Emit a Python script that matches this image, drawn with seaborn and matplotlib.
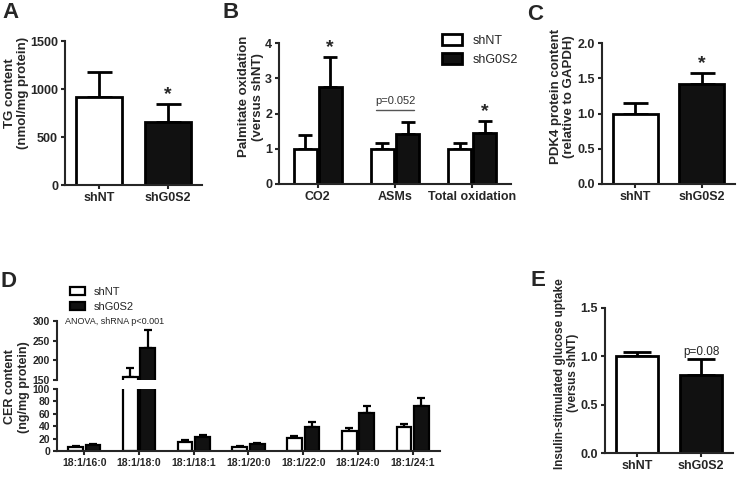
import numpy as np
import pandas as pd
import matplotlib
matplotlib.use('Agg')
import matplotlib.pyplot as plt
import seaborn as sns

# ---- data ----
groups = ['shNT', 'shG0S2']
tg_mean = [917, 656]
tg_sem = [260, 188]

ox_cats = ['CO2', 'ASMs', 'Total oxidation']
ox_shnt = [1.0, 1.0, 1.0]
ox_shnt_sem = [0.38, 0.15, 0.15]
ox_shg = [2.75, 1.42, 1.45]
ox_shg_sem = [0.85, 0.33, 0.33]

pdk4_mean = [1.0, 1.42]
pdk4_sem = [0.15, 0.16]

cer_cats = ['18:1/16:0', '18:1/18:0', '18:1/18:1', '18:1/20:0', '18:1/22:0', '18:1/24:0', '18:1/24:1']
cer_shnt = [7, 158, 15, 7, 21, 33, 39]
cer_shnt_sem = [1, 23, 2, 1, 3, 4, 5]
cer_shg = [10, 232, 22, 12, 38, 61, 72]
cer_shg_sem = [1.5, 44, 4, 1.5, 8, 12, 14]

glu_mean = [1.0, 0.81]
glu_sem = [0.04, 0.16]

colors = {'shNT': 'white', 'shG0S2': '#111111'}

sns.set_style('ticks')
plt.rcParams['font.family'] = ['Liberation Sans', 'DejaVu Sans']
plt.rcParams['axes.linewidth'] = 1.5

W, H = 738, 479
fig = plt.figure(figsize=(W / 100, H / 100), dpi=100)


def box(l, t, r, b):
    return [l / W, 1 - b / H, (r - l) / W, (b - t) / H]


def style(ax, size=9):
    sns.despine(ax=ax)
    ax.tick_params(direction='out', length=3, width=1.5, pad=2, labelsize=size)
    for lab in ax.get_xticklabels() + ax.get_yticklabels():
        lab.set_fontweight('bold')


def add_err(ax, sems, cap, lw=2):
    # sems: one list per hue level, in container order
    tops = []
    for cont, errs in zip(ax.containers, sems):
        for bar, e in zip(cont, errs):
            x = bar.get_x() + bar.get_width() / 2
            h = bar.get_height()
            ax.errorbar(x, h, yerr=[[0], [e]], fmt='none', ecolor='black',
                        elinewidth=lw, capsize=cap, capthick=lw, zorder=1)
            tops.append((x, h + e))
    return tops


def simple(ax, means, sems, cap):
    df = pd.DataFrame({'group': groups, 'value': means})
    sns.barplot(data=df, x='group', y='value', hue='group', palette=colors,
                legend=False, width=0.67, edgecolor='black', linewidth=2,
                errorbar=None, ax=ax, zorder=2)
    tops = add_err(ax, [[s] for s in sems], cap)
    ax.set_xlim(-0.5, 1.5)
    ax.set_xlabel('')
    return tops


# ---- A ----
axA = fig.add_axes(box(65, 41, 202, 185))
tops = simple(axA, tg_mean, tg_sem, 9)
axA.set_ylim(0, 1500)
axA.set_yticks([0, 500, 1000, 1500])
axA.set_ylabel('TG content\n(nmol/mg protein)', fontsize=9.5, fontweight='bold')
axA.yaxis.set_label_coords(-0.26, 0.64)
axA.text(tops[1][0], tops[1][1] + 10, '*', ha='center', va='bottom', fontsize=14, fontweight='bold')
style(axA)

# ---- B ----
axB = fig.add_axes(box(279, 43, 511, 184))
dfB = pd.DataFrame({'cat': ox_cats * 2,
                    'grp': ['shNT'] * 3 + ['shG0S2'] * 3,
                    'value': ox_shnt + ox_shg})
sns.barplot(data=dfB, x='cat', y='value', hue='grp', palette=colors,
            width=0.65, gap=0.08, edgecolor='black', linewidth=2,
            errorbar=None, ax=axB, zorder=2)
topsB = add_err(axB, [ox_shnt_sem, ox_shg_sem], 4.7)
axB.set_xlim(-0.5, 2.5)
axB.set_ylim(0, 4)
axB.set_yticks([0, 1, 2, 3, 4])
axB.set_xlabel('')
axB.set_ylabel('Palmitate oxidation\n(versus shNT)', fontsize=9.5, fontweight='bold')
axB.yaxis.set_label_coords(-0.065, 0.62)
for x, t in [topsB[3], topsB[5]]:
    axB.text(x, t + 0.02, '*', ha='center', va='bottom', fontsize=14, fontweight='bold')
axB.plot([topsB[1][0] - 0.08, topsB[4][0] + 0.08], [2.1, 2.1], color='#555555', lw=1)
axB.text((topsB[1][0] + topsB[4][0]) / 2, 2.2, 'p=0.052', ha='center', va='bottom',
         fontsize=8, color='#333333')
h, l = axB.get_legend_handles_labels()
axB.legend(h, l, loc='upper left', bbox_to_anchor=(436 / W, 1 - 28 / H),
           bbox_transform=fig.transFigure, frameon=False, fontsize=9,
           handlelength=1.6, handleheight=1.0, labelspacing=0.45,
           borderpad=0, handletextpad=0.8)
style(axB)

# ---- C ----
axC = fig.add_axes(box(602, 43, 735, 184))
tops = simple(axC, pdk4_mean, pdk4_sem, 9)
axC.set_ylim(0, 2.0)
axC.set_yticks([0, 0.5, 1.0, 1.5, 2.0])
axC.set_yticklabels(['0.0', '0.5', '1.0', '1.5', '2.0'])
axC.set_ylabel('PDK4 protein content\n(relative to GAPDH)', fontsize=9.5, fontweight='bold')
axC.yaxis.set_label_coords(-0.2, 0.62)
axC.text(tops[1][0], tops[1][1] + 0.01, '*', ha='center', va='bottom', fontsize=14, fontweight='bold')
style(axC)

# ---- D (broken axis) ----
axDu = fig.add_axes(box(57, 321, 440, 380))
axDl = fig.add_axes(box(57, 389, 440, 451))
dfD = pd.DataFrame({'cat': cer_cats * 2,
                    'grp': ['shNT'] * 7 + ['shG0S2'] * 7,
                    'value': cer_shnt + cer_shg})
for ax in (axDu, axDl):
    sns.barplot(data=dfD, x='cat', y='value', hue='grp', palette=colors,
                width=0.64, gap=0.16, edgecolor='black', linewidth=1.6,
                errorbar=None, ax=ax, zorder=2, legend=(ax is axDu))
    add_err(ax, [cer_shnt_sem, cer_shg_sem], 2.6, lw=1.6)
    ax.set_xlim(-0.5, 6.5)
    ax.set_xlabel('')
    ax.set_ylabel('')
axDu.set_ylim(150, 300)
axDu.set_yticks([150, 200, 250, 300])
axDl.set_ylim(0, 100)
axDl.set_yticks([0, 20, 40, 60, 80, 100])
axDu.text(8 / 383, 1.0, 'ANOVA, shRNA p<0.001', transform=axDu.transAxes,
          ha='left', va='center', fontsize=6.5)
h, l = axDu.get_legend_handles_labels()
axDu.legend(h, l, loc='upper left', bbox_to_anchor=(64 / W, 1 - 281 / H),
            bbox_transform=fig.transFigure, frameon=False, fontsize=8,
            handlelength=1.4, handleheight=0.8, labelspacing=0.45,
            borderpad=0, handletextpad=0.8)
style(axDu, 7.5)
style(axDl, 7.5)
axDu.spines['bottom'].set_visible(False)
axDu.tick_params(axis='x', bottom=False, labelbottom=False)
fig.text(17 / W, 1 - 387 / H, 'CER content\n(ng/mg protein)', rotation=90,
         ha='center', va='center', fontsize=9, fontweight='bold')

# ---- E ----
axE = fig.add_axes(box(605, 308, 733, 453))
tops = simple(axE, glu_mean, glu_sem, 10)
axE.set_ylim(0, 1.5)
axE.set_yticks([0, 0.5, 1.0, 1.5])
axE.set_yticklabels(['0.0', '0.5', '1.0', '1.5'])
axE.set_ylabel('Insulin-stimulated glucose uptake\n(versus shNT)', fontsize=8.5, fontweight='bold')
axE.yaxis.set_label_coords(-0.2, 0.55)
axE.text(tops[1][0], tops[1][1] + 0.01, 'p=0.08', ha='center', va='bottom', fontsize=8.5)
style(axE)

# ---- panel letters ----
for txt, x, y in [('A', 2, 2), ('B', 222, 2), ('C', 527, 4), ('D', 0, 271), ('E', 530, 270)]:
    fig.text(x / W, 1 - y / H, txt, ha='left', va='top', fontsize=16, fontweight='bold')

fig.savefig('out.png', dpi=100)
